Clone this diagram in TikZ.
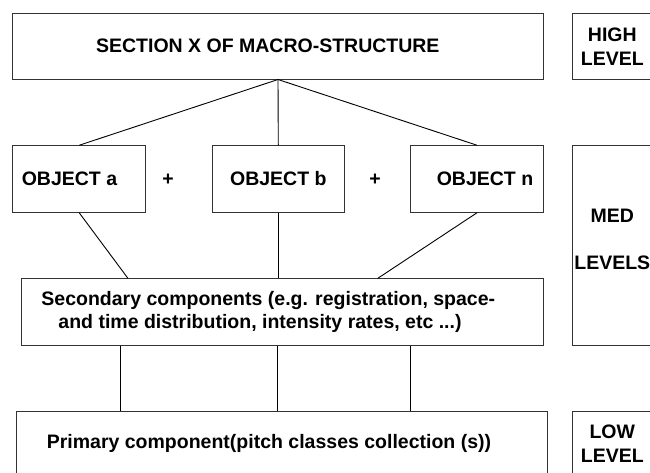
\documentclass[tikz,border=0pt]{standalone}
\usepackage{fontspec}
\setmainfont{Liberation Sans}
\usepackage{tikz}
\usetikzlibrary{calc}

\begin{document}
\begin{tikzpicture}[x=1pt,y=-1pt]
                \tikzset{box/.style = {shape=rectangle,draw=black!80,line width=0.9pt,inner sep=0pt,font=\bfseries\fontsize{19.5}{24}\selectfont}}
                \tikzset{plus/.style = {font=\bfseries\fontsize{19.5}{24}\selectfont}}
                \tikzset{edge/.style = {line width=0.9pt}}
                \useasboundingbox (0,0) rectangle (650,473);
                % levels
                \node[box, minimum width=530.6, minimum height=65.7] (macro) at (278,46.2) {SECTION X OF MACRO-STRUCTURE\hspace*{20.4pt}};
                \node[box, minimum width=80, minimum height=65.7, align=center] (high) at (612.3,46.2) {HIGH\\LEVEL};
                \node[box, minimum width=133, minimum height=66.6] (obja) at (79.2,179) {OBJECT a\hspace*{19.4pt}};
                \node[plus] (p1) at (168,180) {+};
                \node[box, minimum width=132, minimum height=66.6] (objb) at (278.3,179) {OBJECT b};
                \node[plus] (p2) at (375,180) {+};
                \node[box, minimum width=132.6, minimum height=66.6] (objn) at (477,179) {\hspace{16pt}OBJECT n};
                \node[box, minimum width=80, minimum height=199.6, align=center, text depth=13pt] (med) at (612.3,245.5) {MED\\[23pt]LEVELS};
                \node[box, minimum width=522.3, minimum height=66.6, align=center, font=\bfseries\fontsize{19.5}{22.6}\selectfont] (sec) at (282.2,312) {Secondary components (e.g. registration, space-\hspace*{27.8pt}\\and time distribution, intensity rates, etc ...)\hspace*{44.4pt}};
                \node[box, minimum width=530.6, minimum height=64] (prim) at (282,443.3) {Primary component(pitch classes collection (s))\hspace*{26pt}};
                \node[box, minimum width=80, minimum height=64, align=center] (low) at (612.3,443.3) {LOW\\LEVEL};

                %edges
                \draw[edge] (macro.south) to (obja.north);
                \draw[edge] (macro.south) to (objb.north);
                \draw[edge] (macro.south) to (objn.north);
                \draw[edge] (obja.south) to ([xshift=107.3pt]sec.north west);
                \draw[edge] (objb.south) to (objb.south |- sec.north);
                \draw[edge] (objn.south) to ([xshift=357.3pt]sec.north west);
                \coordinate (s1) at ([xshift=99.7pt]sec.south west);
                \coordinate (s2) at ([xshift=257.3pt]sec.south west);
                \coordinate (s3) at ([xshift=390pt]sec.south west);
                \draw[edge] (s1) to (s1 |- prim.north);
                \draw[edge] (s2) to (s2 |- prim.north);
                \draw[edge] (s3) to (s3 |- prim.north);
\end{tikzpicture}
\end{document}
